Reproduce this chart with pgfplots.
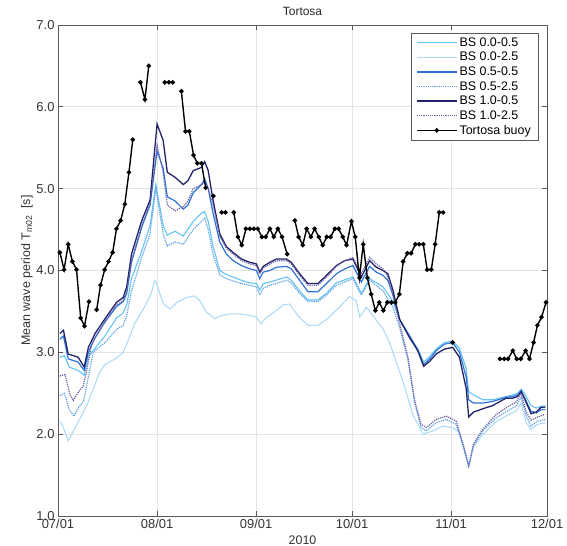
\documentclass[border=0pt]{standalone}
\usepackage{fontspec}
\setmainfont{Liberation Sans}
\usepackage{pgfplots}
\pgfplotsset{compat=1.18}
\definecolor{cA}{RGB}{100,195,245}
\definecolor{cB}{RGB}{175,220,245}
\definecolor{cC}{RGB}{45,115,215}
\definecolor{cD}{RGB}{95,160,230}
\definecolor{cE}{RGB}{35,35,105}
\definecolor{cF}{RGB}{105,95,165}
\definecolor{axgray}{RGB}{90,90,90}
\definecolor{gridgray}{RGB}{228,228,228}
\begin{document}
\begin{tikzpicture}[x=1bp,y=1bp]
\path[use as bounding box] (-58,-30) rectangle (509,516);
\begin{axis}[at={(0,0)}, anchor=south west, width=489bp, height=491bp, scale only axis,
 xmin=0, xmax=153, ymin=1, ymax=7,
 xtick={0,31,62,92,123,153},
 xticklabels={07/01,08/01,09/01,10/01,11/01,12/01},
 ytick={1,2,3,4,5,6,7},
 /pgf/number format/assume math mode=true,
 yticklabel={\pgfmathprintnumber[fixed,fixed zerofill,precision=1]{\tick}},
 tick label style={font=\fontsize{13}{15}\selectfont, text=black!80},
 label style={font=\fontsize{12.5}{15}\selectfont, text=black!80},
 title style={font=\fontsize{12}{14}\selectfont, text=black!85},
 title={Tortosa},
 xlabel={2010},
 ylabel={Mean wave period T\textsubscript{m02}\ \ [s]},
 ylabel style={xshift=0bp, yshift=-3bp},
 grid=major, major grid style={gridgray, line width=0.8bp},
 axis line style={axgray, line width=0.9bp},
 tick style={axgray, line width=0.8bp},
 tick align=inside, major tick length=5bp,
 unbounded coords=jump,
 legend cell align=left,
 legend style={at={(1,1)}, anchor=north east, xshift=-9bp, yshift=-8bp, draw=axgray,
   font=\fontsize{12.5}{14}\selectfont, row sep=0.4bp, inner xsep=5bp, inner ysep=2.5bp},
 legend image code/.code={\draw[mark repeat=2,mark phase=2] plot coordinates {(0bp,0bp) (20bp,0bp) (40bp,0bp)};},
]
% BS 0.0-0.5
\addplot[cA, line width=1.1bp] coordinates {
(0.6,2.94)(2,2.96)(3.5,2.82)(6.3,2.78)(8.2,2.72)(9.5,2.95)(11.6,3.05)(14.7,3.20)(18.3,3.42)(20.4,3.48)(21.5,3.58)(23,3.90)(26.2,4.24)(28.8,4.55)(30.6,5.05)(32.9,4.55)(34.2,4.43)(36.6,4.48)(39.2,4.42)(42.3,4.60)(44.9,4.70)(45.9,4.72)(47,4.60)(48.5,4.30)(50.6,4.00)(52.7,3.95)(57.4,3.88)(60,3.85)(62.1,3.84)(63.1,3.76)(64.2,3.84)(66.3,3.86)(71.5,3.92)(73,3.88)(75.6,3.75)(78.2,3.64)(81.3,3.64)(84,3.72)(87.1,3.85)(92.3,3.92)(94.9,3.72)(97.5,3.90)(101.7,3.80)(104.8,3.62)(106.9,3.40)(110,3.20)(112.6,3.04)(114.4,2.88)(116.3,2.95)(118.3,3.04)(120.9,3.12)(123.5,3.14)(125.6,3.05)(127.7,2.80)(128.5,2.52)(130,2.48)(132.9,2.42)(136,2.42)(140.2,2.46)(142.3,2.48)(143.8,2.50)(144.9,2.55)(145.9,2.50)(148,2.35)(149.6,2.32)(151.2,2.34)(152.5,2.35)};
\addlegendentry{BS 0.0-0.5}
% BS 0.0-2.5
\addplot[cB, line width=1.1bp] coordinates {
(0.6,2.16)(1.5,2.10)(3.2,1.92)(5,2.05)(7,2.20)(9,2.35)(11,2.55)(13,2.75)(14.7,2.85)(17,2.90)(19,2.95)(20.4,3.00)(22,3.15)(24,3.35)(27,3.55)(29,3.70)(30.3,3.88)(31,3.82)(33,3.59)(35.1,3.53)(37.2,3.61)(40.2,3.67)(42.8,3.69)(44.4,3.63)(46.5,3.49)(49.1,3.41)(51.2,3.45)(53.8,3.47)(56.9,3.47)(60,3.45)(62,3.43)(63.6,3.35)(65,3.42)(68,3.50)(70.4,3.58)(72.5,3.59)(75,3.45)(78.2,3.33)(81.3,3.33)(84,3.40)(88,3.55)(91.2,3.68)(93.3,3.63)(94.4,3.43)(96.5,3.55)(99.6,3.39)(101.5,3.30)(103.7,3.12)(107.9,2.65)(111,2.24)(114.2,2.00)(117.3,2.04)(120.4,2.10)(123.5,2.08)(125.6,2.02)(127,1.85)(128.5,1.62)(130,1.85)(133,2.00)(137,2.15)(141,2.24)(143.3,2.28)(144.9,2.38)(146.5,2.14)(148,2.06)(150,2.12)(152.5,2.14)};
\addlegendentry{BS 0.0-2.5}
% BS 0.5-0.5
\addplot[cC, line width=1.2bp] coordinates {
(0.6,3.16)(1.7,3.20)(3.2,2.92)(6.3,2.88)(8.2,2.78)(9.5,3.00)(11.6,3.18)(14.7,3.37)(18.3,3.56)(20.4,3.62)(21.5,3.72)(23,4.10)(26.2,4.53)(28.8,4.80)(31,5.46)(32.9,5.25)(34.2,4.90)(36.6,4.85)(39.2,4.75)(40.7,4.80)(42.3,4.95)(44.9,5.05)(45.9,5.12)(47,5.00)(48.5,4.70)(50.6,4.35)(52.7,4.20)(54.8,4.12)(57.4,4.06)(60,4.02)(62.1,4.00)(63.1,3.90)(64.2,3.98)(66.3,4.00)(68.3,4.04)(71.5,4.05)(73,4.02)(75.6,3.88)(78.2,3.74)(81.3,3.74)(84,3.84)(87.1,3.96)(89.7,4.02)(92.3,4.06)(94.9,3.86)(97.5,4.05)(99.6,3.98)(101.7,3.94)(103.2,3.88)(104.8,3.70)(106.9,3.40)(110,3.20)(112.6,3.02)(114.4,2.85)(116.3,2.92)(118.3,3.02)(120.9,3.10)(123.5,3.12)(125.6,3.00)(127.7,2.70)(128.5,2.42)(130,2.38)(132.9,2.38)(136,2.40)(140.2,2.45)(142.3,2.46)(143.8,2.48)(144.9,2.53)(145.9,2.45)(148,2.28)(149.6,2.26)(151.2,2.30)(152.5,2.30)};
\addlegendentry{BS 0.5-0.5}
% BS 0.5-2.5
\addplot[cD, line width=1.2bp, densely dotted] coordinates {
(0.6,2.47)(2,2.50)(3.5,2.30)(5,2.22)(6.5,2.33)(8,2.40)(9.5,2.70)(11,3.00)(14.7,3.12)(18.3,3.28)(20.4,3.33)(21.5,3.45)(23,3.75)(26.2,4.16)(28.8,4.45)(30.6,5.00)(32.9,4.45)(34.2,4.30)(36.6,4.35)(39.2,4.32)(42.3,4.50)(44.9,4.60)(45.9,4.64)(47,4.50)(48.5,4.20)(50.6,3.95)(52.7,3.90)(57.4,3.84)(60,3.82)(62.1,3.80)(63.1,3.70)(64.2,3.78)(66.3,3.82)(71.5,3.88)(73,3.85)(75.6,3.72)(78.2,3.62)(81.3,3.62)(84,3.70)(87.1,3.82)(92.3,3.90)(94.9,3.70)(97.5,3.88)(101.7,3.75)(104.8,3.55)(106.9,3.30)(109.5,2.90)(111.6,2.38)(113.6,2.08)(115.2,2.04)(118.3,2.14)(121.5,2.18)(124.6,2.12)(126.7,1.86)(128.5,1.60)(130,1.86)(132.9,2.04)(137.1,2.20)(141.3,2.30)(143.3,2.34)(144.9,2.45)(146.5,2.22)(148,2.10)(150.1,2.16)(152.5,2.18)};
\addlegendentry{BS 0.5-2.5}
% BS 1.0-0.5
\addplot[cE, line width=1.3bp] coordinates {
(0.6,3.23)(1.7,3.27)(3.2,2.98)(6.3,2.94)(8.2,2.82)(9.5,3.06)(11.6,3.23)(14.7,3.41)(18.3,3.61)(20.4,3.67)(21.5,3.80)(23,4.20)(26.2,4.61)(28.8,4.86)(31,5.79)(32.9,5.59)(34.2,5.20)(36.6,5.14)(39.2,5.05)(40.7,5.10)(42.3,5.22)(44.9,5.26)(45.9,5.33)(47,5.22)(48.5,4.86)(50.6,4.45)(52.7,4.29)(54.8,4.22)(57.4,4.14)(60,4.10)(62.1,4.08)(63.1,3.98)(64.2,4.05)(66.3,4.10)(68.3,4.14)(71.5,4.14)(73,4.10)(75.6,3.96)(78.2,3.84)(81.3,3.84)(84,3.94)(87.1,4.06)(89.7,4.12)(92.3,4.14)(94.9,3.92)(97.5,4.12)(99.6,4.04)(101.7,4.00)(103.2,3.96)(104.8,3.76)(106.9,3.40)(110,3.18)(112.6,3.02)(114.4,2.83)(116.3,2.89)(118.3,2.98)(120.9,3.04)(123.5,3.06)(125.6,2.94)(127.7,2.56)(128.5,2.21)(130,2.27)(132.9,2.31)(136,2.35)(140.2,2.44)(142.3,2.44)(143.8,2.46)(144.9,2.52)(145.9,2.44)(148,2.25)(149.6,2.27)(151.2,2.33)(152.5,2.33)};
\addlegendentry{BS 1.0-0.5}
% BS 1.0-2.5
\addplot[cF, line width=1.2bp, densely dotted] coordinates {
(0.6,2.71)(2.2,2.73)(3.75,2.48)(4.8,2.41)(6.3,2.51)(7.9,2.59)(9,2.78)(10.5,3.10)(14.7,3.38)(18.3,3.58)(20.4,3.63)(21.5,3.75)(23,4.12)(26.2,4.55)(28.8,4.82)(31,5.53)(32.9,5.20)(34.2,4.80)(36.6,4.73)(39.2,4.78)(40.7,4.85)(42.3,5.00)(44.9,5.05)(45.9,5.08)(47,5.00)(48.5,4.80)(50.6,4.42)(52.7,4.27)(54.8,4.20)(57.4,4.12)(60,4.08)(62.1,4.06)(63.1,3.96)(64.2,4.03)(66.3,4.08)(68.3,4.12)(71.5,4.12)(73,4.08)(75.6,3.94)(78.2,3.82)(81.3,3.82)(84,3.92)(87.1,4.05)(89.7,4.12)(92.3,4.16)(94.9,3.96)(97.5,4.16)(99.6,4.08)(101.7,4.02)(103.2,3.92)(104.8,3.70)(106.9,3.35)(109.5,2.94)(111.6,2.41)(113.6,2.12)(115.2,2.08)(118.3,2.18)(121.5,2.22)(124.6,2.16)(126.7,1.88)(128.5,1.61)(130,1.88)(132.9,2.06)(137.1,2.24)(141.3,2.35)(143.3,2.39)(144.9,2.50)(146.5,2.27)(148,2.17)(150.1,2.21)(152.2,2.24)};
\addlegendentry{BS 1.0-2.5}
% Tortosa buoy
\addplot[black, line width=1.4bp, mark=*, mark size=1.5bp] coordinates {
(0.6,4.22)(1.9,4.01)(3.2,4.32)(4.5,4.11)(5.8,4.01)(7.1,3.42)(8.3,3.32)(9.7,3.62)
(10.5,nan)
(12.1,3.52)(13.3,3.82)(14.6,4.01)(15.8,4.11)(17.1,4.22)(18.3,4.51)(19.6,4.61)(20.9,4.81)(22.2,5.20)(23.4,5.60)
(24.5,nan)
(25.8,6.30)(27.2,6.09)(28.4,6.50)
(30,nan)
(33.4,6.30)(34.7,6.30)(35.9,6.30)
(37,nan)
(38.6,6.19)(39.9,5.70)(41.1,5.70)(42.4,5.41)(43.6,5.31)(44.9,5.31)(46.2,5.01)
(47.5,nan)
(48.6,4.91)
(49.5,nan)
(51.2,4.71)(52.4,4.71)
(53.5,nan)
(55,4.71)(56.3,4.41)(57.5,4.31)(58.8,4.51)(60,4.51)(61.3,4.51)(62.5,4.51)(63.8,4.41)(65,4.41)(66.3,4.51)(67.5,4.41)(68.8,4.51)(70.1,4.41)(71.7,4.20)
(73,nan)
(74.1,4.61)(75.3,4.41)(76.6,4.31)(77.8,4.51)(79.1,4.41)(80.3,4.51)(81.6,4.41)(82.8,4.31)(84.1,4.41)(85.3,4.41)(86.6,4.51)(87.8,4.51)(89.1,4.41)(90.3,4.31)(91.8,4.60)(93,4.41)(94.3,3.91)(95.5,4.32)(96.8,3.91)(98,3.71)(99.3,3.51)(100.5,3.61)(101.8,3.51)(103,3.61)(104.3,3.61)(105.5,3.61)(106.8,3.71)(108,4.11)(109.3,4.21)(110.5,4.21)(111.8,4.32)(113,4.32)(114.3,4.32)(115.5,4.01)(116.8,4.01)(118,4.32)(119.3,4.71)(120.5,4.71)
(122,nan)
(123.5,3.12)
(125,nan)
(138.3,2.92)(139.6,2.92)(140.8,2.92)(142.3,3.02)(143.5,2.92)(144.8,2.92)(146.3,3.02)(147.5,2.92)(148.8,3.12)(150,3.33)(151.3,3.43)(152.7,3.61)};
\addlegendentry{Tortosa buoy}
\end{axis}
\end{tikzpicture}
\end{document}
